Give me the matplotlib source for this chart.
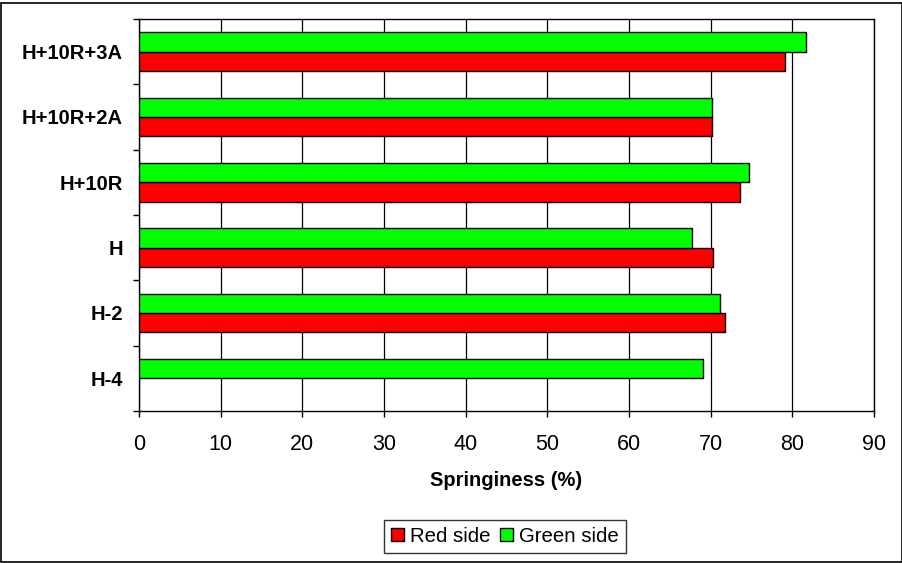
import numpy as np
import matplotlib
matplotlib.use("Agg")
import matplotlib.pyplot as plt
from matplotlib.patches import Rectangle, Patch

plt.rcParams['font.family'] = ['Liberation Sans', 'DejaVu Sans']

categories = ["H-4", "H-2", "H", "H+10R", "H+10R+2A", "H+10R+3A"]
red_side = [np.nan, 71.7, 70.3, 73.6, 70.2, 79.1]
green_side = [69.1, 71.1, 67.75, 74.65, 70.2, 81.7]
x_ticks = [0, 10, 20, 30, 40, 50, 60, 70, 80, 90]

W, H = 903, 563
fig = plt.figure(figsize=(W / 100, H / 100), dpi=100)
left, right, top, bottom = 139, 874, 19, 411
ax = fig.add_axes([left / W, 1 - bottom / H, (right - left) / W, (bottom - top) / H])

y = np.arange(len(categories))
h = 0.296
ax.barh(y - h / 2, red_side, height=h, color='#FF0000', edgecolor='black', linewidth=1.0, zorder=3)
ax.barh(y + h / 2, green_side, height=h, color='#00FF00', edgecolor='black', linewidth=1.0, zorder=3)

ax.set_xlim(0, 90)
ax.set_ylim(-0.5, len(categories) - 0.5)
ax.set_xticks(x_ticks)
ax.set_xticklabels([str(t) for t in x_ticks], fontsize=15.5)
ax.set_yticks(y)
ax.set_yticklabels(categories, fontsize=14.5, fontweight='bold')
ax.set_yticks(np.arange(-0.5, len(categories), 1.0), minor=True)
ax.tick_params(axis='y', which='major', length=0, pad=11.5)
ax.tick_params(axis='y', which='minor', length=4.3, width=1, direction='out', color='black')
ax.tick_params(axis='x', which='major', length=4.3, width=1, direction='out', pad=12.5)
ax.grid(axis='x', color='black', linewidth=0.9, zorder=1)
ax.set_axisbelow(True)
for s in ax.spines.values():
    s.set_color('black')
    s.set_linewidth(1.0)

ax.set_xlabel("Springiness (%)", fontsize=14.5, fontweight='bold', va='center')
ax.xaxis.set_label_coords(0.5, (bottom - 480) / (bottom - top))

handles = [Patch(facecolor='#FF0000', edgecolor='black', linewidth=1.0, label='Red side'),
           Patch(facecolor='#00FF00', edgecolor='black', linewidth=1.0, label='Green side')]
leg = fig.legend(handles=handles, loc='center', bbox_to_anchor=(505 / W, 1 - 536.5 / H),
                 ncol=2, fontsize=14.7, frameon=True, fancybox=False, edgecolor='black',
                 handlelength=0.6, handleheight=0.6, handletextpad=0.3, columnspacing=0.5,
                 borderpad=0.35, borderaxespad=0)
leg.get_frame().set_linewidth(1.0)

fig.patches.append(Rectangle((1.5 / W, 1 - 562 / H), (W - 2) / W, (562 - 3) / H,
                             transform=fig.transFigure, fill=False, edgecolor='black',
                             linewidth=1.2, zorder=10))

fig.savefig("out.png", dpi=100)
